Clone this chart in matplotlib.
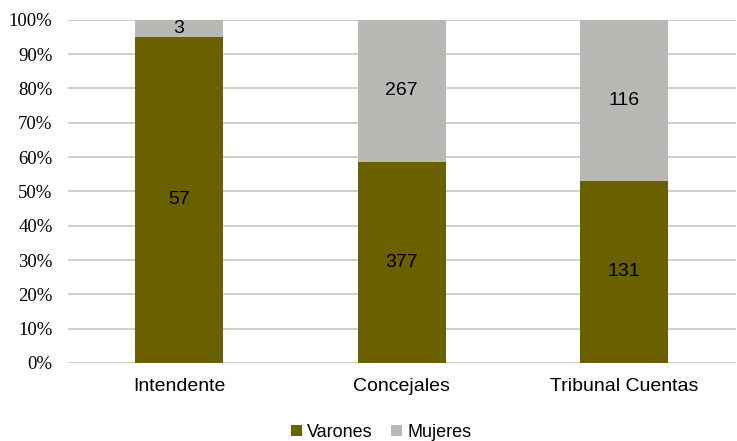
import matplotlib
matplotlib.use('Agg')
import matplotlib.pyplot as plt
import numpy as np

# Data
categorias = ['Intendente', 'Concejales', 'Tribunal Cuentas']
varones    = [57, 377, 131]
mujeres    = [3, 267, 116]

col_var = '#6B6000'
col_muj = '#B8B8B4'

total   = np.array(varones) + np.array(mujeres)
p_var   = np.array(varones) / total * 100
p_muj   = np.array(mujeres) / total * 100

fig = plt.figure(figsize=(7.37, 4.41), dpi=100)
ax  = fig.add_axes([0.092, 0.177, 0.906, 0.778])

x = np.arange(len(categorias))
w = 0.395
b1 = ax.bar(x, p_var, w, color=col_var, label='Varones', zorder=3)
b2 = ax.bar(x, p_muj, w, bottom=p_var, color=col_muj, label='Mujeres', zorder=3)

for i in range(len(categorias)):
    ax.text(x[i], p_var[i] / 2, str(varones[i]), ha='center', va='center',
            fontsize=14, family='Liberation Sans', zorder=4)
    ax.text(x[i], p_var[i] + p_muj[i] / 2, str(mujeres[i]), ha='center', va='center',
            fontsize=14, family='Liberation Sans', zorder=4)

ax.set_ylim(0, 100)
ax.set_xlim(-0.5, 2.5)
ax.set_yticks(range(0, 101, 10))
ax.set_yticklabels(['%d%%' % v for v in range(0, 101, 10)],
                   family='Liberation Serif', fontsize=13.5)
ax.set_xticks(x)
ax.set_xticklabels(categorias, family='Liberation Sans', fontsize=14)
ax.yaxis.grid(True, color='#C9C5BD', linewidth=1.2, zorder=0)
ax.tick_params(length=0)
ax.tick_params(axis='x', pad=11)
ax.tick_params(axis='y', pad=11)
for s in ax.spines.values():
    s.set_visible(False)

leg = fig.legend(handles=[b1, b2], loc='lower center', bbox_to_anchor=(0.517, -0.037),
                 ncol=2, frameon=False, handlelength=0.6, handleheight=0.6,
                 handletextpad=0.3, columnspacing=1.0,
                 prop={'family': 'Liberation Sans', 'size': 13})

fig.savefig('out.png', dpi=100)
